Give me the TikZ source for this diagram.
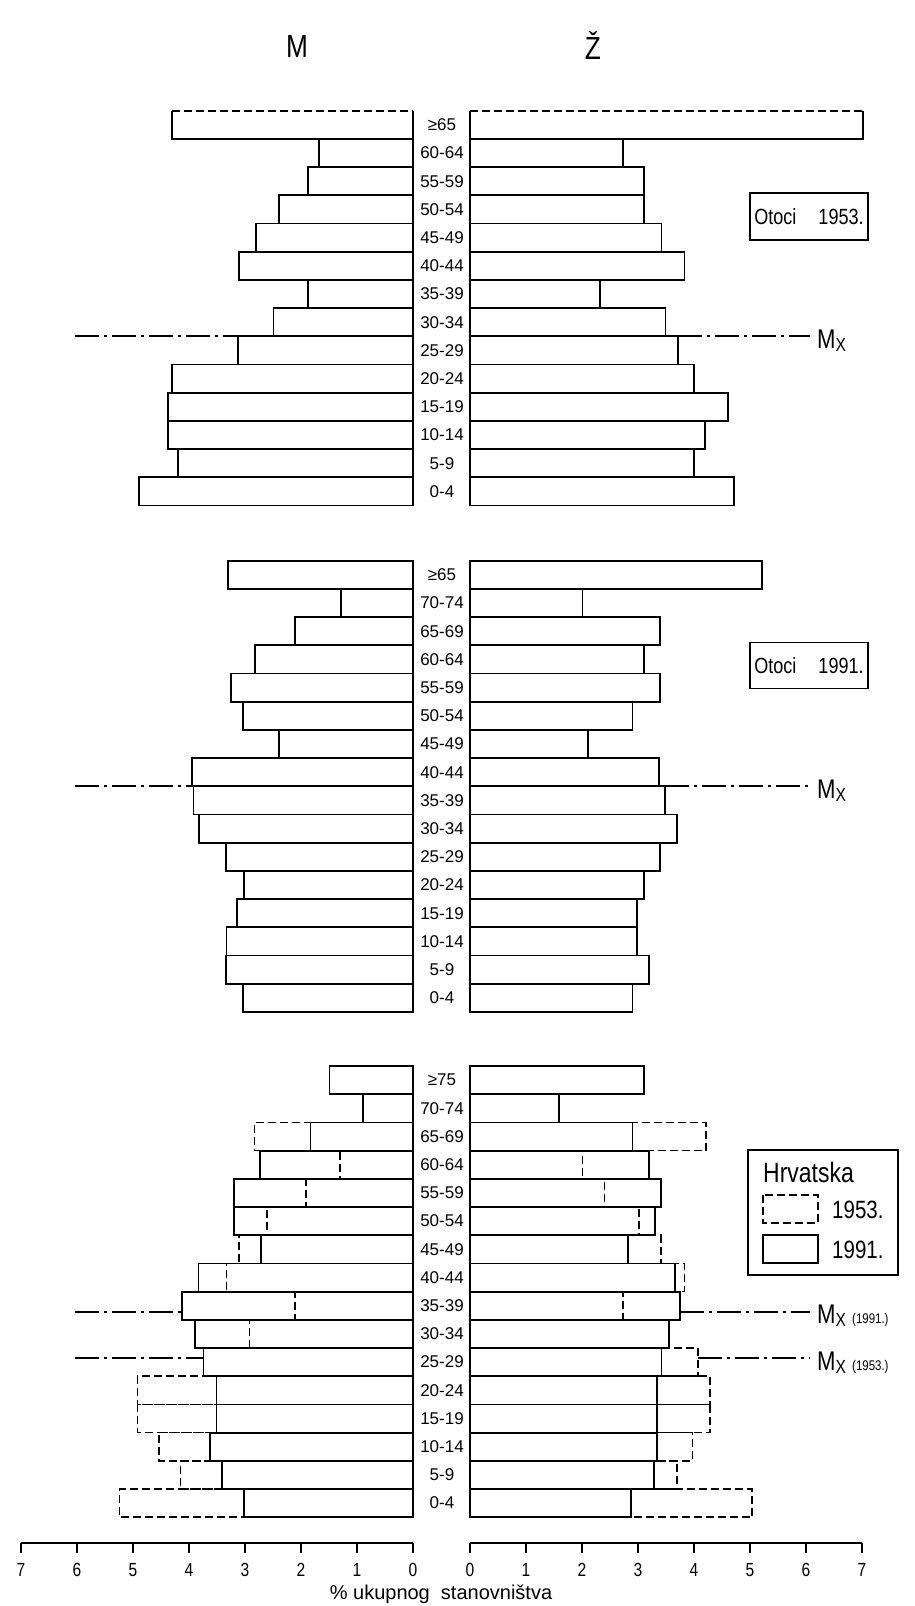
\documentclass[tikz,border=0pt]{standalone}
\usepackage{fontspec}
\setmainfont{Liberation Sans}
\newfontfamily\narrow{Liberation Sans}[FakeStretch=0.82]
\usetikzlibrary{positioning}

\tikzset{
  bar/.style={draw, line width=1.8pt},
  oldbar/.style={draw, line width=1.6pt, dash pattern=on 8pt off 4pt},
  median/.style={line width=2pt, dash pattern=on 24pt off 5pt on 3pt off 5pt},
  agelabel/.style={inner sep=0pt, font=\fontsize{17}{17}\selectfont},
  keybox/.style={draw, line width=1.4pt, inner sep=0pt, font=\narrow\fontsize{22}{22}\selectfont},
  ticklabel/.style={inner sep=0pt, font=\narrow\fontsize{19}{19}\selectfont},
  sexlabel/.style={inner sep=0pt, font=\narrow\fontsize{32}{32}\selectfont},
  mxlabel/.style={inner sep=0pt, anchor=base west, font=\narrow\fontsize{27}{27}\selectfont}
}
\newcommand{\mx}{M\raisebox{-3pt}{\fontsize{19}{19}\selectfont X}}

\def\lz{413}
\def\rz{470}
\def\pct{56}
\def\rowh{28.2}

\begin{document}
\begin{tikzpicture}[x=1pt, y=-1pt]
  \useasboundingbox (0,0) rectangle (914,1606);

  \node[sexlabel] (men) at (297,46) {M};
  \node[sexlabel] (women) at (593,46) {Ž};

  % Otoci 1953.
  \def\tT{110.7}
  \draw[bar] (\lz,\tT) -- (\lz,\tT+\rowh) -- (\lz-\pct*4.31,\tT+\rowh) -- (\lz-\pct*4.31,\tT);
  \draw[bar, dash pattern=on 8pt off 4pt] (\lz-\pct*4.31,\tT) -- (\lz,\tT);
  \draw[bar] (\rz,\tT) -- (\rz,\tT+\rowh) -- (\rz+\pct*7.02,\tT+\rowh) -- (\rz+\pct*7.02,\tT);
  \draw[bar, dash pattern=on 8pt off 4pt] (\rz,\tT) -- (\rz+\pct*7.02,\tT);
  \foreach \v [count=\i from 1] in {1.68,1.87,2.39,2.81,3.11,1.87,2.49,3.12,4.31,4.38,4.38,4.20,4.89}
    \draw[bar] (\lz,\tT+\i*\rowh) rectangle (\lz-\pct*\v,\tT+\i*\rowh+\rowh);
  \foreach \v [count=\i from 1] in {2.73,3.11,3.11,3.42,3.83,2.32,3.49,3.72,4.00,4.60,4.20,4.00,4.72}
    \draw[bar] (\rz,\tT+\i*\rowh) rectangle (\rz+\pct*\v,\tT+\i*\rowh+\rowh);
  \draw[bar] (\lz,\tT) -- (\lz,\tT+14*\rowh);
  \draw[bar] (\rz,\tT) -- (\rz,\tT+14*\rowh);
  \foreach \lab [count=\i from 0] in {≥65,60-64,55-59,50-54,45-49,40-44,35-39,30-34,25-29,20-24,15-19,10-14,5-9,0-4}
    \node[agelabel] (a53-\i) at (442,\tT+\i*\rowh+\rowh/2) {\lab};
  \node[keybox, minimum width=118pt, minimum height=47pt] (otoci53) at (809,216.5) {Otoci\quad 1953.};
  \coordinate (mx53l) at (75,\tT+8*\rowh);
  \coordinate (mx53a) at (\lz-\pct*3.12,\tT+8*\rowh);
  \coordinate (mx53b) at (\rz+\pct*3.72,\tT+8*\rowh);
  \node[mxlabel] (mx53) at (817,\tT+8*\rowh+12) {\mx};
  \draw[median] (mx53l) -- (mx53a);
  \draw[median] (mx53b) -- (810,\tT+8*\rowh);

  % Otoci 1991.
  \def\mT{560.7}
  \foreach \v [count=\i from 0] in {3.30,1.29,2.11,2.82,3.25,3.03,2.39,3.95,3.92,3.82,3.34,3.02,3.15,3.33,3.34,3.04}
    \draw[bar] (\lz,\mT+\i*\rowh) rectangle (\lz-\pct*\v,\mT+\i*\rowh+\rowh);
  \foreach \v [count=\i from 0] in {5.21,2.01,3.39,3.11,3.39,2.90,2.11,3.38,3.48,3.69,3.39,3.11,2.98,2.98,3.20,2.90}
    \draw[bar] (\rz,\mT+\i*\rowh) rectangle (\rz+\pct*\v,\mT+\i*\rowh+\rowh);
  \draw[bar] (\lz,\mT) -- (\lz,\mT+16*\rowh);
  \draw[bar] (\rz,\mT) -- (\rz,\mT+16*\rowh);
  \foreach \lab [count=\i from 0] in {≥65,70-74,65-69,60-64,55-59,50-54,45-49,40-44,35-39,30-34,25-29,20-24,15-19,10-14,5-9,0-4}
    \node[agelabel] (a91-\i) at (442,\mT+\i*\rowh+\rowh/2) {\lab};
  \node[keybox, minimum width=118pt, minimum height=46pt] (otoci91) at (809,665.7) {Otoci\quad 1991.};
  \coordinate (mx91l) at (75,\mT+8*\rowh);
  \coordinate (mx91a) at (\lz-\pct*3.95,\mT+8*\rowh);
  \coordinate (mx91b) at (\rz+\pct*3.48,\mT+8*\rowh);
  \node[mxlabel] (mx91) at (817,\mT+8*\rowh+12) {\mx};
  \draw[median] (mx91l) -- (mx91a);
  \draw[median] (mx91b) -- (810,\mT+8*\rowh);

  % Hrvatska 1953. / 1991.
  \def\bT{1066}
  \foreach \v [count=\i from 2] in {2.83,1.30,1.91,2.61,3.11,3.33,2.11,2.92,3.74,4.92,4.92,4.54,4.15,5.24}
    \draw[oldbar] (\lz,\bT+\i*\rowh) rectangle (\lz-\pct*\v,\bT+\i*\rowh+\rowh);
  \foreach \v [count=\i from 2] in {4.21,2.01,2.40,3.02,3.41,3.83,2.73,3.55,4.07,4.29,4.29,3.97,3.70,5.04}
    \draw[oldbar] (\rz,\bT+\i*\rowh) rectangle (\rz+\pct*\v,\bT+\i*\rowh+\rowh);
  \foreach \v [count=\i from 0] in {1.49,0.89,1.83,2.73,3.20,3.20,2.71,3.83,4.13,3.90,3.74,3.51,3.51,3.63,3.41,3.02}
    \draw[bar] (\lz,\bT+\i*\rowh) rectangle (\lz-\pct*\v,\bT+\i*\rowh+\rowh);
  \foreach \v [count=\i from 0] in {3.11,1.59,2.90,3.20,3.41,3.30,2.82,3.66,3.75,3.55,3.42,3.34,3.34,3.34,3.28,2.88}
    \draw[bar] (\rz,\bT+\i*\rowh) rectangle (\rz+\pct*\v,\bT+\i*\rowh+\rowh);
  \draw[bar] (\lz,\bT) -- (\lz,\bT+16*\rowh);
  \draw[bar] (\rz,\bT) -- (\rz,\bT+16*\rowh);
  \foreach \lab [count=\i from 0] in {≥75,70-74,65-69,60-64,55-59,50-54,45-49,40-44,35-39,30-34,25-29,20-24,15-19,10-14,5-9,0-4}
    \node[agelabel] (ahr-\i) at (442,\bT+\i*\rowh+\rowh/2) {\lab};

  \node[draw, line width=1.4pt, minimum width=150pt, minimum height=125pt] (hrkey) at (823,1212.5) {};
  \node[inner sep=0pt, anchor=base west, font=\narrow\fontsize{28}{28}\selectfont] (hrname) at (763,1182) {Hrvatska};
  \draw[oldbar] (763,1195) rectangle (818,1223);
  \node[inner sep=0pt, anchor=base west, font=\narrow\fontsize{25}{25}\selectfont] (y53) at (832,1218) {1953.};
  \draw[bar] (763,1235) rectangle (818,1263);
  \node[inner sep=0pt, anchor=base west, font=\narrow\fontsize{25}{25}\selectfont] (y91) at (832,1258) {1991.};

  \coordinate (mxa91l) at (75,1311.7);
  \coordinate (mxa91a) at (\lz-\pct*4.13,1311.7);
  \coordinate (mxa91b) at (\rz+\pct*3.75,1311.7);
  \node[mxlabel] (mxa91) at (817,1323.7) {\mx\ {\fontsize{14}{14}\selectfont (1991.)}};
  \draw[median] (mxa91l) -- (mxa91a);
  \draw[median] (mxa91b) -- (810,1311.7);
  \coordinate (mxa53l) at (75,1358.3);
  \coordinate (mxa53a) at (\lz-\pct*3.74,1358.3);
  \coordinate (mxa53b) at (\rz+\pct*4.07,1358.3);
  \node[mxlabel] (mxa53) at (817,1370.3) {\mx\ {\fontsize{14}{14}\selectfont (1953.)}};
  \draw[median] (mxa53l) -- (mxa53a);
  \draw[median] (mxa53b) -- (810,1358.3);

  % os
  \draw[line width=1.6pt] (21,1543) -- (\lz,1543);
  \draw[line width=1.6pt] (\rz,1543) -- (\rz+\pct*7,1543);
  \foreach \k in {0,...,7} {
    \draw[line width=1.6pt] (\lz-\pct*\k,1543) -- ++(0,10);
    \draw[line width=1.6pt] (\rz+\pct*\k,1543) -- ++(0,10);
    \node[ticklabel] (tl\k) at (\lz-\pct*\k,1570) {\k};
    \node[ticklabel] (tr\k) at (\rz+\pct*\k,1570) {\k};
  }
  \node[inner sep=0pt, font=\fontsize{20}{20}\selectfont] (xtitle) at (441,1594) {\% ukupnog\ \ stanovništva};
\end{tikzpicture}
\end{document}
